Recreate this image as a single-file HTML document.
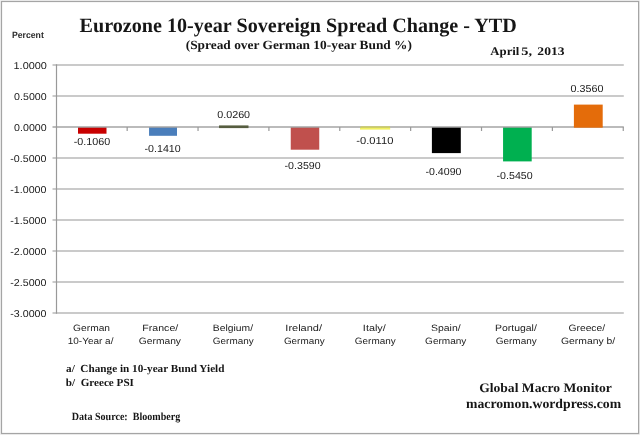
<!DOCTYPE html>
<html><head><meta charset="utf-8">
<style>
html,body{margin:0;padding:0;background:#fff;width:640px;height:435px;overflow:hidden}
svg{position:absolute;left:0;top:0;display:block;will-change:transform;text-rendering:geometricPrecision}
.s{font-family:"Liberation Sans",sans-serif;fill:#202020}
.r{font-family:"Liberation Serif",serif;font-weight:bold;fill:#161616}
</style></head><body>
<svg width="640" height="435" viewBox="0 0 640 435">
<rect x="0" y="0" width="640" height="435" fill="#f1f1f1"/>
<rect x="1.5" y="1.5" width="637.1" height="432" fill="#fff" stroke="#a5a5a5" stroke-width="1.2"/>
<g stroke="#b9b9b9" stroke-width="1.4">
<line x1="52.5" y1="65" x2="623.8" y2="65"/>
<line x1="52.5" y1="96" x2="623.8" y2="96"/>
<line x1="52.5" y1="158" x2="623.8" y2="158"/>
<line x1="52.5" y1="189" x2="623.8" y2="189"/>
<line x1="52.5" y1="220" x2="623.8" y2="220"/>
<line x1="52.5" y1="251" x2="623.8" y2="251"/>
<line x1="52.5" y1="282" x2="623.8" y2="282"/>
<line x1="52.5" y1="313" x2="623.8" y2="313"/>
</g>
<rect x="78.0" y="127.0" width="28.50" height="6.70" fill="#c80000"/>
<rect x="149.05" y="127.0" width="27.95" height="8.80" fill="#4a7ebb"/>
<rect x="219.05" y="125.7" width="29.35" height="2.30" fill="#4f5a35"/>
<rect x="290.75" y="127.0" width="28.50" height="22.70" fill="#c0504d"/>
<rect x="360" y="127.6" width="30.20" height="2.00" fill="#f0f060"/>
<rect x="431.9" y="127.0" width="28.90" height="26.10" fill="#000000"/>
<rect x="503.06" y="127.0" width="28.64" height="34.40" fill="#00b050"/>
<rect x="573.9" y="104.6" width="28.80" height="22.40" fill="#e46c0a"/>
<g stroke="#a4a4a4" stroke-width="1.5"><line x1="52.5" y1="127" x2="623.8" y2="127"/></g>
<rect x="219.05" y="125.6" width="29.35" height="2.5" fill="#565d40"/>
<rect x="573.9" y="126" width="28.8" height="1.7" fill="#e46c0a"/>
<rect x="360.5" y="126.3" width="29.5" height="1.6" fill="#d8d840" opacity="0.7"/>
<g stroke="#999" stroke-width="1.2">
<line x1="56.5" y1="64.3" x2="56.5" y2="313.7"/>
<line x1="127.17" y1="127" x2="127.17" y2="131"/>
<line x1="198.04" y1="127" x2="198.04" y2="131"/>
<line x1="268.91" y1="127" x2="268.91" y2="131"/>
<line x1="339.78" y1="127" x2="339.78" y2="131"/>
<line x1="410.65" y1="127" x2="410.65" y2="131"/>
<line x1="481.52" y1="127" x2="481.52" y2="131"/>
<line x1="552.39" y1="127" x2="552.39" y2="131"/>
<line x1="623.26" y1="127" x2="623.26" y2="131"/>
</g>
<text id="title" class="r" x="79.60" y="31.60" font-size="20.4" textLength="437.16" lengthAdjust="spacingAndGlyphs" xml:space="preserve">Eurozone 10-year Sovereign Spread Change - YTD</text>
<text id="sub" class="r" x="185.73" y="48.62" font-size="12.5" textLength="226.24" lengthAdjust="spacingAndGlyphs" xml:space="preserve">(Spread over German 10-year Bund %)</text>
<text id="date1" class="r" x="490.30" y="55.10" font-size="11.6" textLength="29.13" lengthAdjust="spacingAndGlyphs" xml:space="preserve">April</text>
<text id="date2" class="r" x="521.33" y="55.10" font-size="11.6" textLength="10.74" lengthAdjust="spacingAndGlyphs" xml:space="preserve">5,</text>
<text id="date3" class="r" x="537.36" y="55.10" font-size="11.6" textLength="27.13" lengthAdjust="spacingAndGlyphs" xml:space="preserve">2013</text>
<text id="pct" class="s" x="11.99" y="37.60" font-size="9" font-weight="bold" style="stroke-width:0;fill:#2a2a2a" textLength="31.83" lengthAdjust="spacingAndGlyphs" xml:space="preserve">Percent</text>
<text id="na" class="r" x="66.06" y="372.20" font-size="10.8" textLength="158.44" lengthAdjust="spacingAndGlyphs" xml:space="preserve">a/  Change in 10-year Bund Yield</text>
<text id="nb" class="r" x="65.81" y="385.70" font-size="10.8" textLength="68.11" lengthAdjust="spacingAndGlyphs" xml:space="preserve">b/  Greece PSI</text>
<text id="ds" class="r" x="71.78" y="419.72" font-size="11" textLength="108.45" lengthAdjust="spacingAndGlyphs" xml:space="preserve">Data Source:  Bloomberg</text>
<text id="gm" class="r" x="479.15" y="392.29" font-size="13" textLength="132.66" lengthAdjust="spacingAndGlyphs" xml:space="preserve">Global Macro Monitor</text>
<text id="mm" class="r" x="466.00" y="407.67" font-size="13.5" textLength="155.12" lengthAdjust="spacingAndGlyphs" xml:space="preserve">macromon.wordpress.com</text>
<text id="y0" class="s" x="13.55" y="69.05" font-size="10" textLength="33.32" lengthAdjust="spacingAndGlyphs" xml:space="preserve">1.0000</text>
<text id="y1" class="s" x="14.14" y="100.05" font-size="10" textLength="32.48" lengthAdjust="spacingAndGlyphs" xml:space="preserve">0.5000</text>
<text id="y2" class="s" x="14.14" y="131.05" font-size="10" textLength="32.48" lengthAdjust="spacingAndGlyphs" xml:space="preserve">0.0000</text>
<text id="y3" class="s" x="10.28" y="162.05" font-size="10" textLength="36.18" lengthAdjust="spacingAndGlyphs" xml:space="preserve">-0.5000</text>
<text id="y4" class="s" x="10.28" y="193.05" font-size="10" textLength="36.18" lengthAdjust="spacingAndGlyphs" xml:space="preserve">-1.0000</text>
<text id="y5" class="s" x="10.28" y="224.05" font-size="10" textLength="36.18" lengthAdjust="spacingAndGlyphs" xml:space="preserve">-1.5000</text>
<text id="y6" class="s" x="10.28" y="255.05" font-size="10" textLength="36.18" lengthAdjust="spacingAndGlyphs" xml:space="preserve">-2.0000</text>
<text id="y7" class="s" x="10.28" y="286.05" font-size="10" textLength="36.18" lengthAdjust="spacingAndGlyphs" xml:space="preserve">-2.5000</text>
<text id="y8" class="s" x="10.28" y="317.05" font-size="10" textLength="36.18" lengthAdjust="spacingAndGlyphs" xml:space="preserve">-3.0000</text>
<text id="d0" class="s" x="73.66" y="145.00" font-size="10.2" textLength="36.56" lengthAdjust="spacingAndGlyphs" xml:space="preserve">-0.1060</text>
<text id="d1" class="s" x="144.58" y="152.00" font-size="10.2" textLength="36.10" lengthAdjust="spacingAndGlyphs" xml:space="preserve">-0.1410</text>
<text id="d2" class="s" x="217.23" y="118.00" font-size="10.2" textLength="32.87" lengthAdjust="spacingAndGlyphs" xml:space="preserve">0.0260</text>
<text id="d3" class="s" x="284.58" y="169.00" font-size="10.2" textLength="36.10" lengthAdjust="spacingAndGlyphs" xml:space="preserve">-0.3590</text>
<text id="d4" class="s" x="356.33" y="144.00" font-size="10.2" textLength="37.01" lengthAdjust="spacingAndGlyphs" xml:space="preserve">-0.0110</text>
<text id="d5" class="s" x="425.50" y="175.00" font-size="10.2" textLength="35.93" lengthAdjust="spacingAndGlyphs" xml:space="preserve">-0.4090</text>
<text id="d6" class="s" x="496.58" y="179.00" font-size="10.2" textLength="36.10" lengthAdjust="spacingAndGlyphs" xml:space="preserve">-0.5450</text>
<text id="d7" class="s" x="570.60" y="92.00" font-size="10.2" textLength="32.92" lengthAdjust="spacingAndGlyphs" xml:space="preserve">0.3560</text>
<text id="c0a" class="s" x="73.13" y="330.90" font-size="9.2" textLength="36.88" lengthAdjust="spacingAndGlyphs" xml:space="preserve">German</text>
<text id="c0b" class="s" x="67.75" y="343.70" font-size="9.2" textLength="45.68" lengthAdjust="spacingAndGlyphs" xml:space="preserve">10-Year a/</text>
<text id="c1a" class="s" x="142.37" y="330.90" font-size="9.2" textLength="35.89" lengthAdjust="spacingAndGlyphs" xml:space="preserve">France/</text>
<text id="c1b" class="s" x="138.81" y="343.70" font-size="9.2" textLength="42.19" lengthAdjust="spacingAndGlyphs" xml:space="preserve">Germany</text>
<text id="c2a" class="s" x="212.83" y="330.90" font-size="9.2" textLength="40.20" lengthAdjust="spacingAndGlyphs" xml:space="preserve">Belgium/</text>
<text id="c2b" class="s" x="212.89" y="343.70" font-size="9.2" textLength="40.78" lengthAdjust="spacingAndGlyphs" xml:space="preserve">Germany</text>
<text id="c3a" class="s" x="285.39" y="330.90" font-size="9.2" textLength="36.60" lengthAdjust="spacingAndGlyphs" xml:space="preserve">Ireland/</text>
<text id="c3b" class="s" x="283.92" y="343.70" font-size="9.2" textLength="40.71" lengthAdjust="spacingAndGlyphs" xml:space="preserve">Germany</text>
<text id="c4a" class="s" x="362.89" y="330.90" font-size="9.2" textLength="22.90" lengthAdjust="spacingAndGlyphs" xml:space="preserve">Italy/</text>
<text id="c4b" class="s" x="354.89" y="343.70" font-size="9.2" textLength="40.78" lengthAdjust="spacingAndGlyphs" xml:space="preserve">Germany</text>
<text id="c5a" class="s" x="430.97" y="330.90" font-size="9.2" textLength="29.71" lengthAdjust="spacingAndGlyphs" xml:space="preserve">Spain/</text>
<text id="c5b" class="s" x="425.08" y="343.70" font-size="9.2" textLength="41.32" lengthAdjust="spacingAndGlyphs" xml:space="preserve">Germany</text>
<text id="c6a" class="s" x="495.02" y="330.90" font-size="9.2" textLength="41.80" lengthAdjust="spacingAndGlyphs" xml:space="preserve">Portugal/</text>
<text id="c6b" class="s" x="495.72" y="343.70" font-size="9.2" textLength="40.99" lengthAdjust="spacingAndGlyphs" xml:space="preserve">Germany</text>
<text id="c7a" class="s" x="568.45" y="330.90" font-size="9.2" textLength="36.69" lengthAdjust="spacingAndGlyphs" xml:space="preserve">Greece/</text>
<text id="c7b" class="s" x="561.03" y="343.70" font-size="9.2" textLength="54.23" lengthAdjust="spacingAndGlyphs" xml:space="preserve">Germany b/</text>
</svg>
</body></html>
